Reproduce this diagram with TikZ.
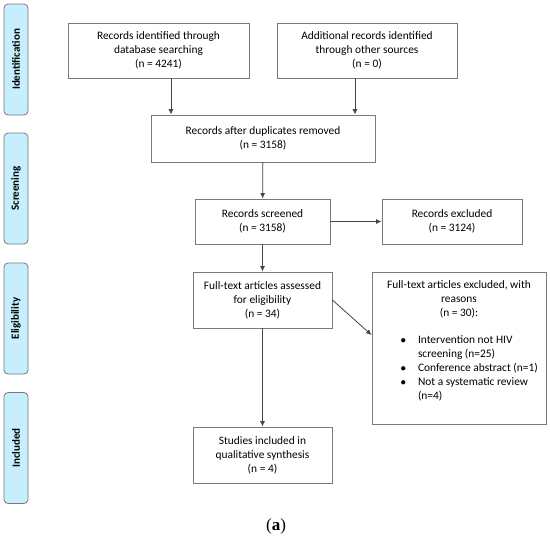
\documentclass[tikz,border=0pt]{standalone}
\usepackage{fontspec}
\setmainfont{Carlito}
\usepackage{tikz}
\usetikzlibrary{arrows.meta}
\usetikzlibrary{calc}
\definecolor{stagefill}{HTML}{C6EEFC}
\definecolor{edgegray}{HTML}{7A7A7A}
\definecolor{arrowgray}{HTML}{444444}
\newfontfamily\capfont{Liberation Serif}

\begin{document}
\begin{tikzpicture}[x=1pt, y=-1pt,
  box/.style={draw=edgegray, line width=0.9pt, fill=white, inner sep=2pt, align=center, font=\fontsize{11.4}{14}\selectfont},
  stage/.style={draw=edgegray, line width=0.8pt, fill=stagefill, rounded corners=4pt, minimum width=111pt, minimum height=24pt, rotate=90, inner sep=0pt, font=\fontsize{11}{13}\selectfont\bfseries},
  arr/.style={-{Latex[length=5.5pt,width=5pt]}, draw=arrowgray, line width=0.8pt}]
\useasboundingbox (0,0) rectangle (550,539);

\node[stage] (sid) at (16,59.5) {Identification};
\node[stage] (ssc) at (16,188.5) {Screening};
\node[stage] (sel) at (16,318.5) {Eligibility};
\node[stage] (sin) at (16,448) {Included};

\node[box, minimum width=181pt, minimum height=55pt] (ident) at (158.5,50.5) {Records identified through\\database searching\\(n = 4241)};
\node[box, minimum width=180pt, minimum height=55pt] (other) at (367,50.5) {Additional records identified\\through other sources\\(n = 0)};
\node[box, minimum width=224pt, minimum height=47pt] (dup) at (263,138.5) {Records after duplicates removed\\(n = 3158)};
\node[box, minimum width=135pt, minimum height=45pt] (screen) at (262.5,221.5) {Records screened\\(n = 3158)};
\node[box, minimum width=140pt, minimum height=45pt] (excl) at (452,221.5) {Records excluded\\(n = 3124)};
\node[box, minimum width=139pt, minimum height=56pt] (full) at (262.5,300) {Full-text articles assessed\\for eligibility\\(n = 34)};
\node[box, minimum width=174pt, minimum height=152pt, inner sep=0pt] (fullexc) at (459,348) {%
  \begin{minipage}{162pt}
  \centering Full-text articles excluded, with\\reasons\\(n = 30):\par
  \vspace{13pt}
  \begin{list}{$\bullet$}{\leftmargin=40pt \rightmargin=0pt \labelwidth=8pt \labelsep=12pt \itemsep=0pt \parsep=0pt \topsep=0pt \partopsep=0pt}
  \raggedright
  \item Intervention not HIV screening (n=25)
  \item Conference abstract (n=1)
  \item Not a systematic review (n=4)
  \end{list}
  \vspace{15pt}
  \end{minipage}};
\node[box, minimum width=139pt, minimum height=56pt] (incl) at (262.5,455) {Studies included in\\qualitative synthesis\\(n = 4)};

\draw[arr] ([xshift=12.5pt]ident.south) -- ([xshift=12.5pt]ident.south |- dup.north);
\draw[arr] ([xshift=-12pt]other.south) -- ([xshift=-12pt]other.south |- dup.north);
\draw[arr] (dup) -- (screen);
\draw[arr] (screen) -- (excl);
\draw[arr] (screen) -- (full);
\draw[arr] (full.east) -- ([yshift=13pt]fullexc.west);
\draw[arr] (full) -- (incl);

\node (cap) at (276,526) {\capfont\fontsize{17}{19}\selectfont (\textbf{a})};
\end{tikzpicture}
\end{document}
